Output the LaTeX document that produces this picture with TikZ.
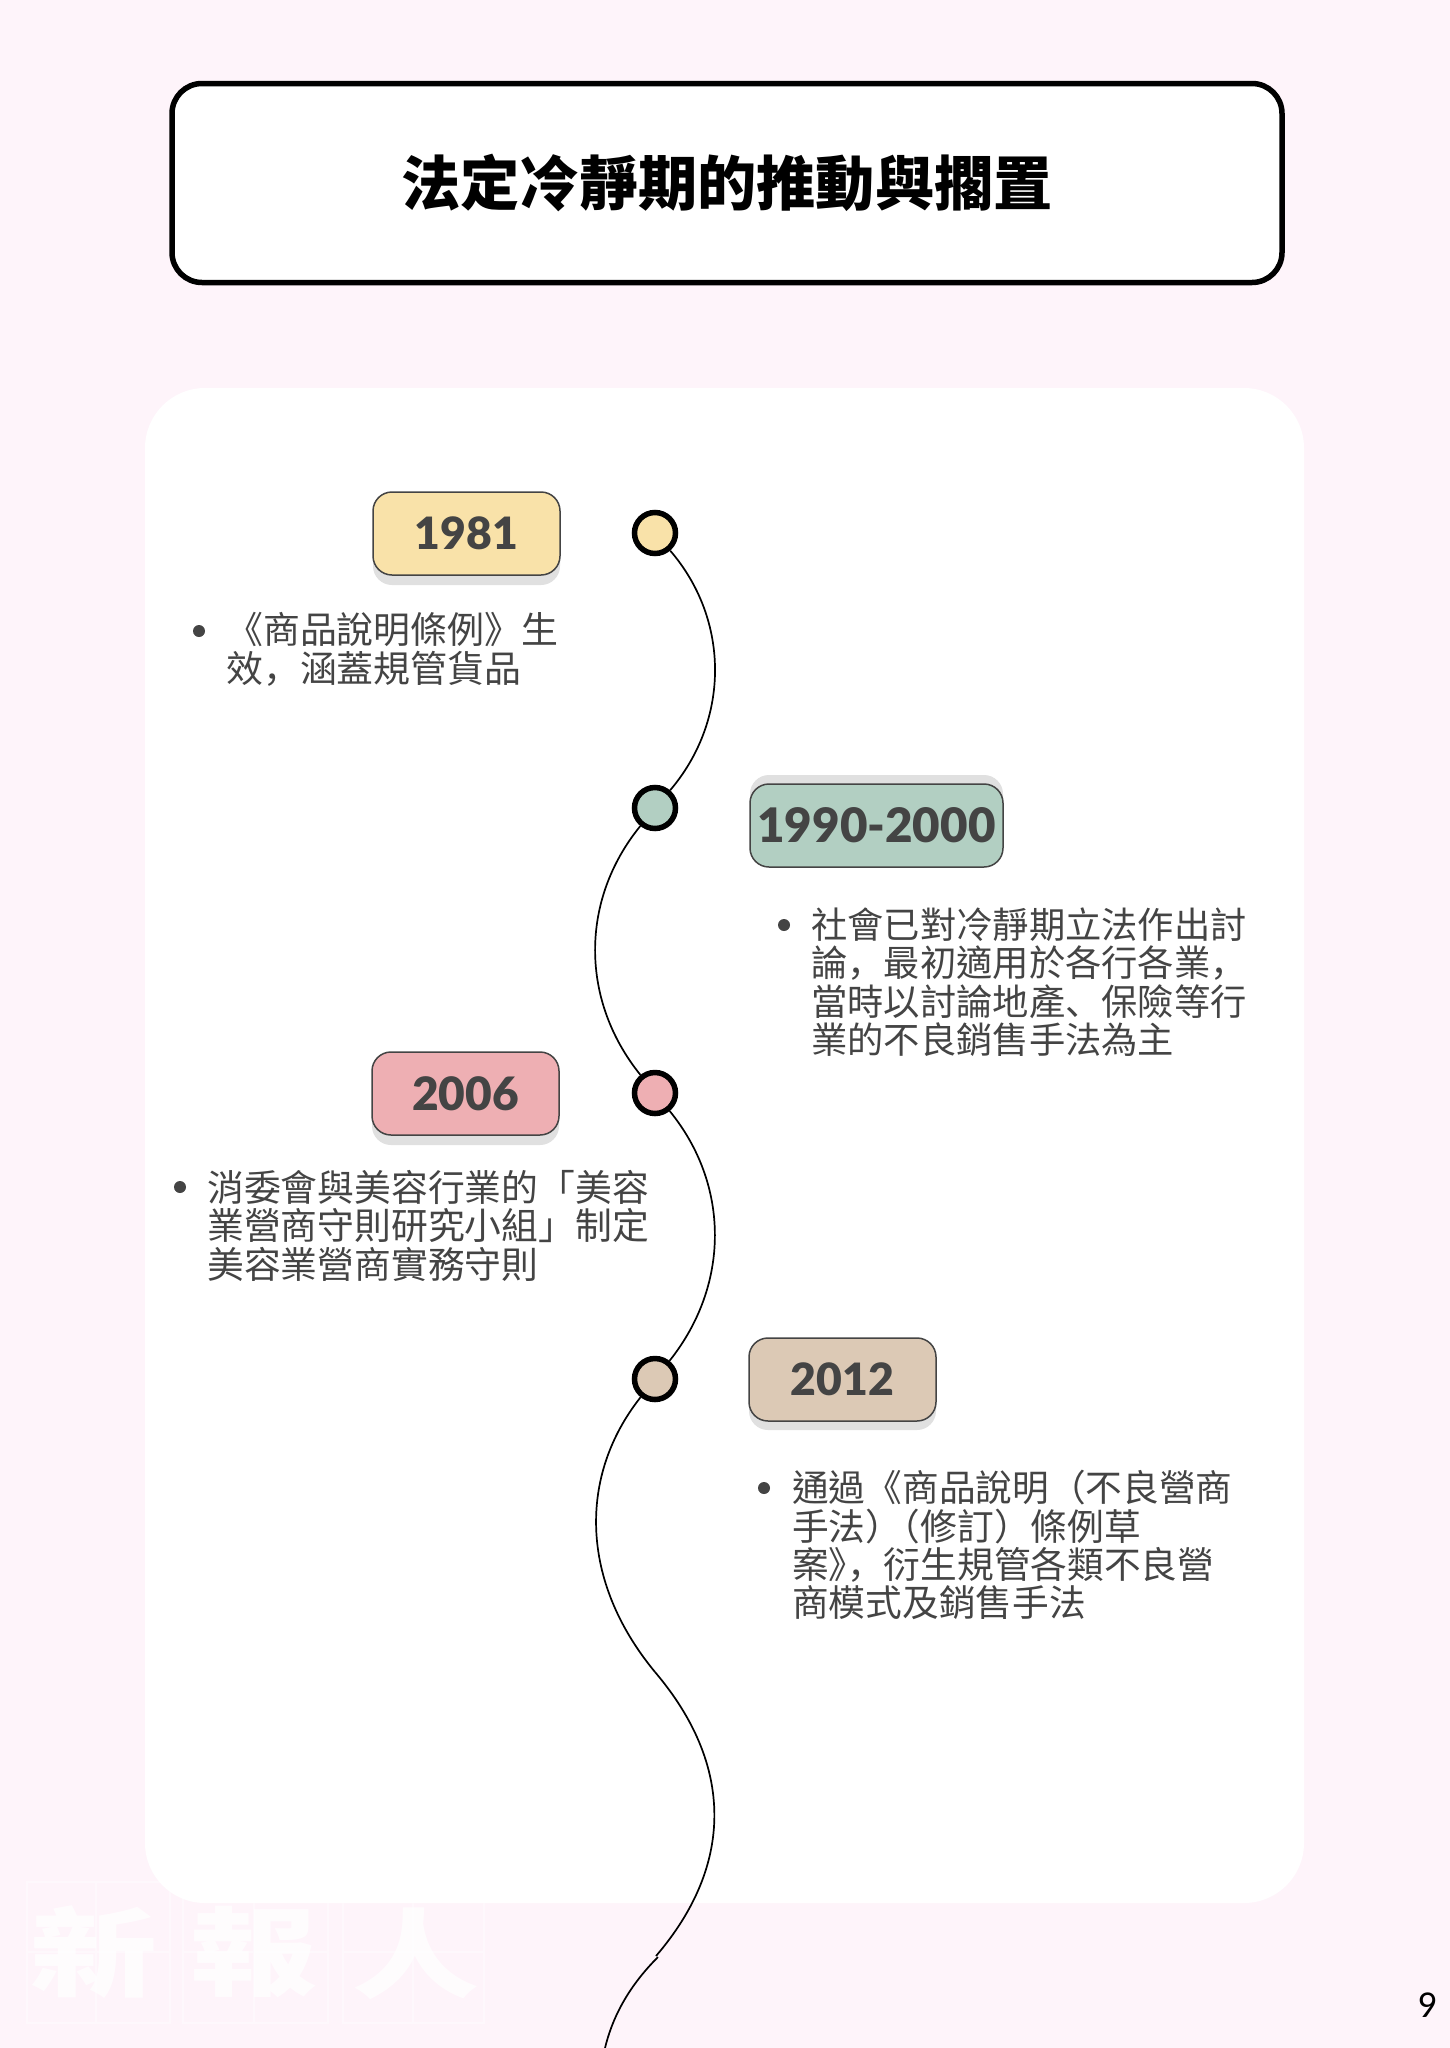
\documentclass[tikz,border=0pt]{standalone}
\usepackage{graphicx}
\usepackage{fontspec}
\setmainfont{Noto Sans CJK TC}
\newfontfamily\jpf{Noto Sans CJK JP}
\newfontfamily\labelfont{Lato Black}
\newfontfamily\pagefont{Carlito}
\newcommand{\pun}[1]{{\jpf #1}}
\newcommand{\wmk}[1]{\scalebox{1.22}[0.93]{#1}}
\definecolor{bgc}{HTML}{FEF4FA}
\definecolor{inkc}{HTML}{444444}
\definecolor{shadec}{HTML}{E0E0E0}
\definecolor{yellowc}{HTML}{F9E2A9}
\definecolor{greenc}{HTML}{B2CFC2}
\definecolor{pinkc}{HTML}{EEAFB3}
\definecolor{tanc}{HTML}{DCC9B5}
\tikzset{
  pill/.style={draw=inkc,line width=1.5pt,rounded corners=19pt,minimum width=187pt,minimum height=83pt,inner sep=0pt,text=inkc,font=\labelfont\fontsize{44.5}{44.5}\selectfont},
  pillshade/.style={fill=shadec,rounded corners=19pt},
  dot/.style={circle,draw=black,line width=5.5pt,minimum size=41pt,inner sep=0pt},
  body/.style={anchor=north west,inner sep=0pt,text=inkc,align=left},
  bulletdot/.style={circle,fill=inkc,minimum size=12pt,inner sep=0pt},
  curveline/.style={draw=black,line width=1.7pt},
  markbox/.style={draw=white,opacity=.45,line width=2.5pt},
  marktext/.style={text=white,opacity=.75,inner sep=0pt,font=\fontsize{104}{104}\selectfont\bfseries}
}
\begin{document}
\begin{tikzpicture}[x=1pt,y=-1pt]
\useasboundingbox (0,0) rectangle (1450,2048);
\fill[bgc] (0,0) rectangle (1450,2048);
% watermark
\draw[markbox] (27,1882) rectangle (170,2023) (96,1882) -- (96,2023) (27,1952) -- (170,1952);
\draw[markbox] (183,1882) rectangle (328,2023) (254,1882) -- (254,2023) (183,1952) -- (328,1952);
\draw[markbox] (343,1882) rectangle (484,2023) (413,1882) -- (413,2023) (343,1952) -- (484,1952);
\node[marktext] (wm1) at (94,1952) {\wmk{新}};
\node[marktext] (wm2) at (254,1952) {\wmk{報}};
\node[marktext] (wm3) at (416,1954) {\wmk{人}};
% panel
\fill[white,rounded corners=60pt] (145,388) rectangle (1304,1903);
% title
\node[draw=black,fill=white,line width=5.5pt,rounded corners=30pt,minimum width=1110pt,minimum height=199pt,inner sep=0pt,font=\fontsize{59.2}{60}\selectfont\bfseries,text=black] (title) at (727,183) {法定冷靜期的推動與擱置};
% timeline dots
\node[dot,fill=yellowc] (d1) at (655,533) {};
\node[dot,fill=greenc] (d2) at (655,808) {};
\node[dot,fill=pinkc] (d3) at (655,1093) {};
\node[dot,fill=tanc] (d4) at (655,1379) {};
\coordinate (c5) at (655,1672);
\coordinate (c6) at (656,1956);
\coordinate (c7) at (658,1957);
\coordinate (c8) at (605,2048);
\draw[curveline] (d1) .. controls (730,620) and (730,720) .. (d2);
\draw[curveline] (d2) .. controls (580,900) and (580,1000) .. (d3);
\draw[curveline] (d3) .. controls (730,1185) and (730,1285) .. (d4);
\draw[curveline] (d4) .. controls (579,1475) and (579,1580) .. (c5);
\draw[curveline] (c5) .. controls (734,1765) and (734,1865) .. (c6);
\draw[curveline] (c7) .. controls (630,1985) and (613,2015) .. (c8);
% year labels
\fill[pillshade] (373,502) rectangle (560,585);
\node[pill,fill=yellowc] (y1) at (466.5,533.5) {1981};
\fill[pillshade] (750,775) rectangle (1003,858);
\node[pill,fill=greenc,minimum width=253pt,font=\labelfont\fontsize{47.5}{47.5}\selectfont] (y2) at (876.5,825.5) {1990-2000};
\fill[pillshade] (372,1062) rectangle (559,1145);
\node[pill,fill=pinkc,font=\labelfont\fontsize{46}{46}\selectfont] (y3) at (465.5,1093.5) {2006};
\fill[pillshade] (749,1347) rectangle (936,1430);
\node[pill,fill=tanc] (y4) at (842.5,1379.5) {2012};
% texts
\node[bulletdot] (b1) at (199,631) {};
\node[body,font=\fontsize{36.9}{38.4}\selectfont] (t1) at (226,612.5) {《商品說明條例》生\\效\pun{，}涵蓋規管貨品};
\node[bulletdot] (b2) at (784,925) {};
\node[body,font=\fontsize{36.3}{38.4}\selectfont] (t2) at (811,907.5) {社會已對冷靜期立法作出討\\論\pun{，}最初適用於各行各業\pun{，}\\當時以討論地產\pun{、}保險等行\\業的不良銷售手法為主};
\node[bulletdot] (b3) at (180,1187) {};
\node[body,font=\fontsize{36.8}{38.4}\selectfont] (t3) at (207,1170) {消委會與美容行業的「美容\\業營商守則研究小組」制定\\美容業營商實務守則};
\node[bulletdot] (b4) at (764,1488) {};
\node[body,font=\fontsize{36.7}{38.4}\selectfont] (t4) at (792,1470) {通過《商品說明（不良營商\\手法）\hspace{-.5em}（修訂）條例草\\案》\hspace{-.5em}\pun{，}衍生規管各類不良營\\商模式及銷售手法};
% page number
\node[inner sep=0pt,text=black,font=\pagefont\fontsize{38}{38}\selectfont] (pg) at (1427,2005) {9};
\end{tikzpicture}
\end{document}
